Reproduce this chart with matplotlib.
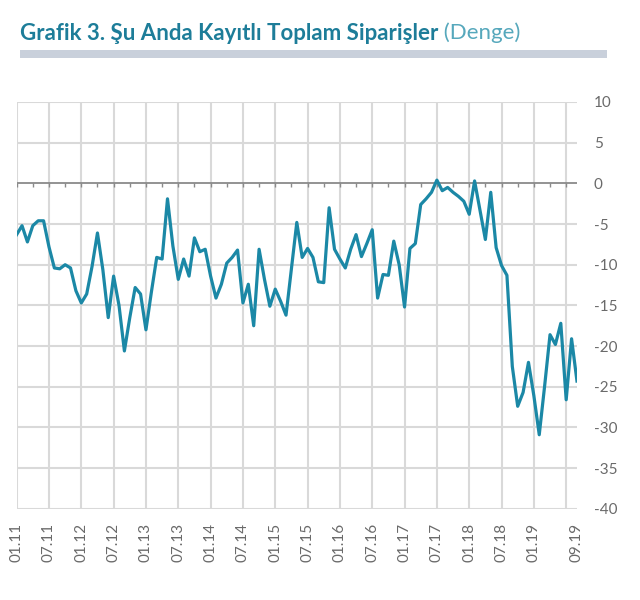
import numpy as np
import pandas as pd
import matplotlib
matplotlib.use('Agg')
import matplotlib.pyplot as plt

plt.rcParams['font.family'] = ['Lato', 'DejaVu Sans']

# monthly balance values, 01.2011 - 09.2019
values = [
    -6.3, -5.2, -7.2, -5.2, -4.6, -4.6, -7.8, -10.4, -10.5, -10.0,
    -10.4, -13.2, -14.7, -13.6, -10.2, -6.1, -10.6, -16.5, -11.4, -15.0,
    -20.6, -16.5, -12.8, -13.6, -18.0, -13.4, -9.1, -9.3, -1.9, -7.7,
    -11.8, -9.3, -11.4, -6.7, -8.4, -8.1, -11.4, -14.1, -12.4, -9.8,
    -9.1, -8.2, -14.7, -12.4, -17.5, -8.1, -11.8, -15.1, -13.0, -14.5,
    -16.2, -10.5, -4.8, -9.1, -8.0, -9.1, -12.1, -12.2, -3.0, -8.1,
    -9.3, -10.4, -8.1, -6.3, -9.0, -7.4, -5.7, -14.1, -11.2, -11.3,
    -7.1, -10.0, -15.2, -8.0, -7.4, -2.6, -1.9, -1.1, 0.4, -0.9,
    -0.5, -1.1, -1.6, -2.2, -3.8, 0.3, -3.3, -6.9, -1.1, -7.9,
    -10.1, -11.3, -22.5, -27.4, -25.7, -22.0, -26.1, -30.9, -24.9, -18.6,
    -19.8, -17.2, -26.6, -19.1, -24.3,
]
months = list(pd.date_range('2011-01-01', periods=len(values), freq='MS').strftime('%m.%y'))

tick_labels = ['01.11', '07.11', '01.12', '07.12', '01.13', '07.13', '01.14', '07.14',
               '01.15', '07.15', '01.16', '07.16', '01.17', '07.17', '01.18', '07.18',
               '01.19', '09.19']
grid_labels = ['01.11', '07.11', '01.12', '07.12', '01.13', '07.13', '01.14', '07.14',
               '01.15', '07.15', '01.16', '07.16', '01.17', '07.17', '01.18', '07.18',
               '01.19', '07.19']
y_ticks = [10, 5, 0, -5, -10, -15, -20, -25, -30, -35, -40]

title_main = 'Grafik 3. Şu Anda Kayıtlı Toplam Siparişler'
title_sub = ' (Denge)'

line_color = '#1b88a6'
grid_color = '#d9d9d9'
axis_gray = '#8a8a8a'
text_gray = '#6a6a6a'

fig = plt.figure(figsize=(6.4, 6.0), dpi=100)
ax = fig.add_axes([0.026, 0.152, 0.8755, 0.678])

x = np.arange(len(values))
x_end = len(values) - 1

# grid drawn by hand
grid_x = [months.index(g) for g in grid_labels]
grid_y = [v for v in y_ticks if v != 0]
ax.vlines(grid_x, -40, 10, colors=grid_color, lw=1.5, zorder=1)
ax.hlines(grid_y, 0, x_end, colors=grid_color, lw=1.5, zorder=1)

# zero axis with small tick marks every 3 months
ax.hlines(0, 0, x_end, colors=axis_gray, lw=1.3, zorder=2)
ax.vlines(x[::3], -0.4, 0, colors=axis_gray, lw=1.0, zorder=2)

ax.plot(x, values, color=line_color, lw=2.3, solid_joinstyle='round', zorder=3)

ax.set_xlim(0, x_end)
ax.set_ylim(-40, 10)

ax.set_xticks([months.index(t) for t in tick_labels])
ax.set_xticklabels(tick_labels, rotation=90, fontsize=11, color=text_gray)
ax.tick_params(axis='x', length=0, pad=10)

ax.yaxis.tick_right()
ax.set_yticks(y_ticks)
ax.set_yticklabels([str(v) for v in y_ticks], fontsize=11, color=text_gray)
ax.tick_params(axis='y', length=0, pad=12)
for lab in ax.get_yticklabels():
    lab.set_horizontalalignment('left')

for s in ax.spines.values():
    s.set_visible(False)

# title with grey bar
t1 = fig.text(0.031, 0.945, title_main, fontsize=16, fontweight='bold',
              color='#1d7d99', va='center', ha='left')
fig.canvas.draw()
bb = t1.get_window_extent()
fig.text(bb.x1 / fig.bbox.width, 0.945, title_sub, fontsize=16,
         color='#56a8bc', va='center', ha='left')
fig.patches.append(plt.Rectangle((0.031, 0.903), 0.918, 0.014, transform=fig.transFigure,
                                 facecolor='#c9d0db', edgecolor='none'))

fig.savefig('out.png', dpi=100, facecolor='white')
